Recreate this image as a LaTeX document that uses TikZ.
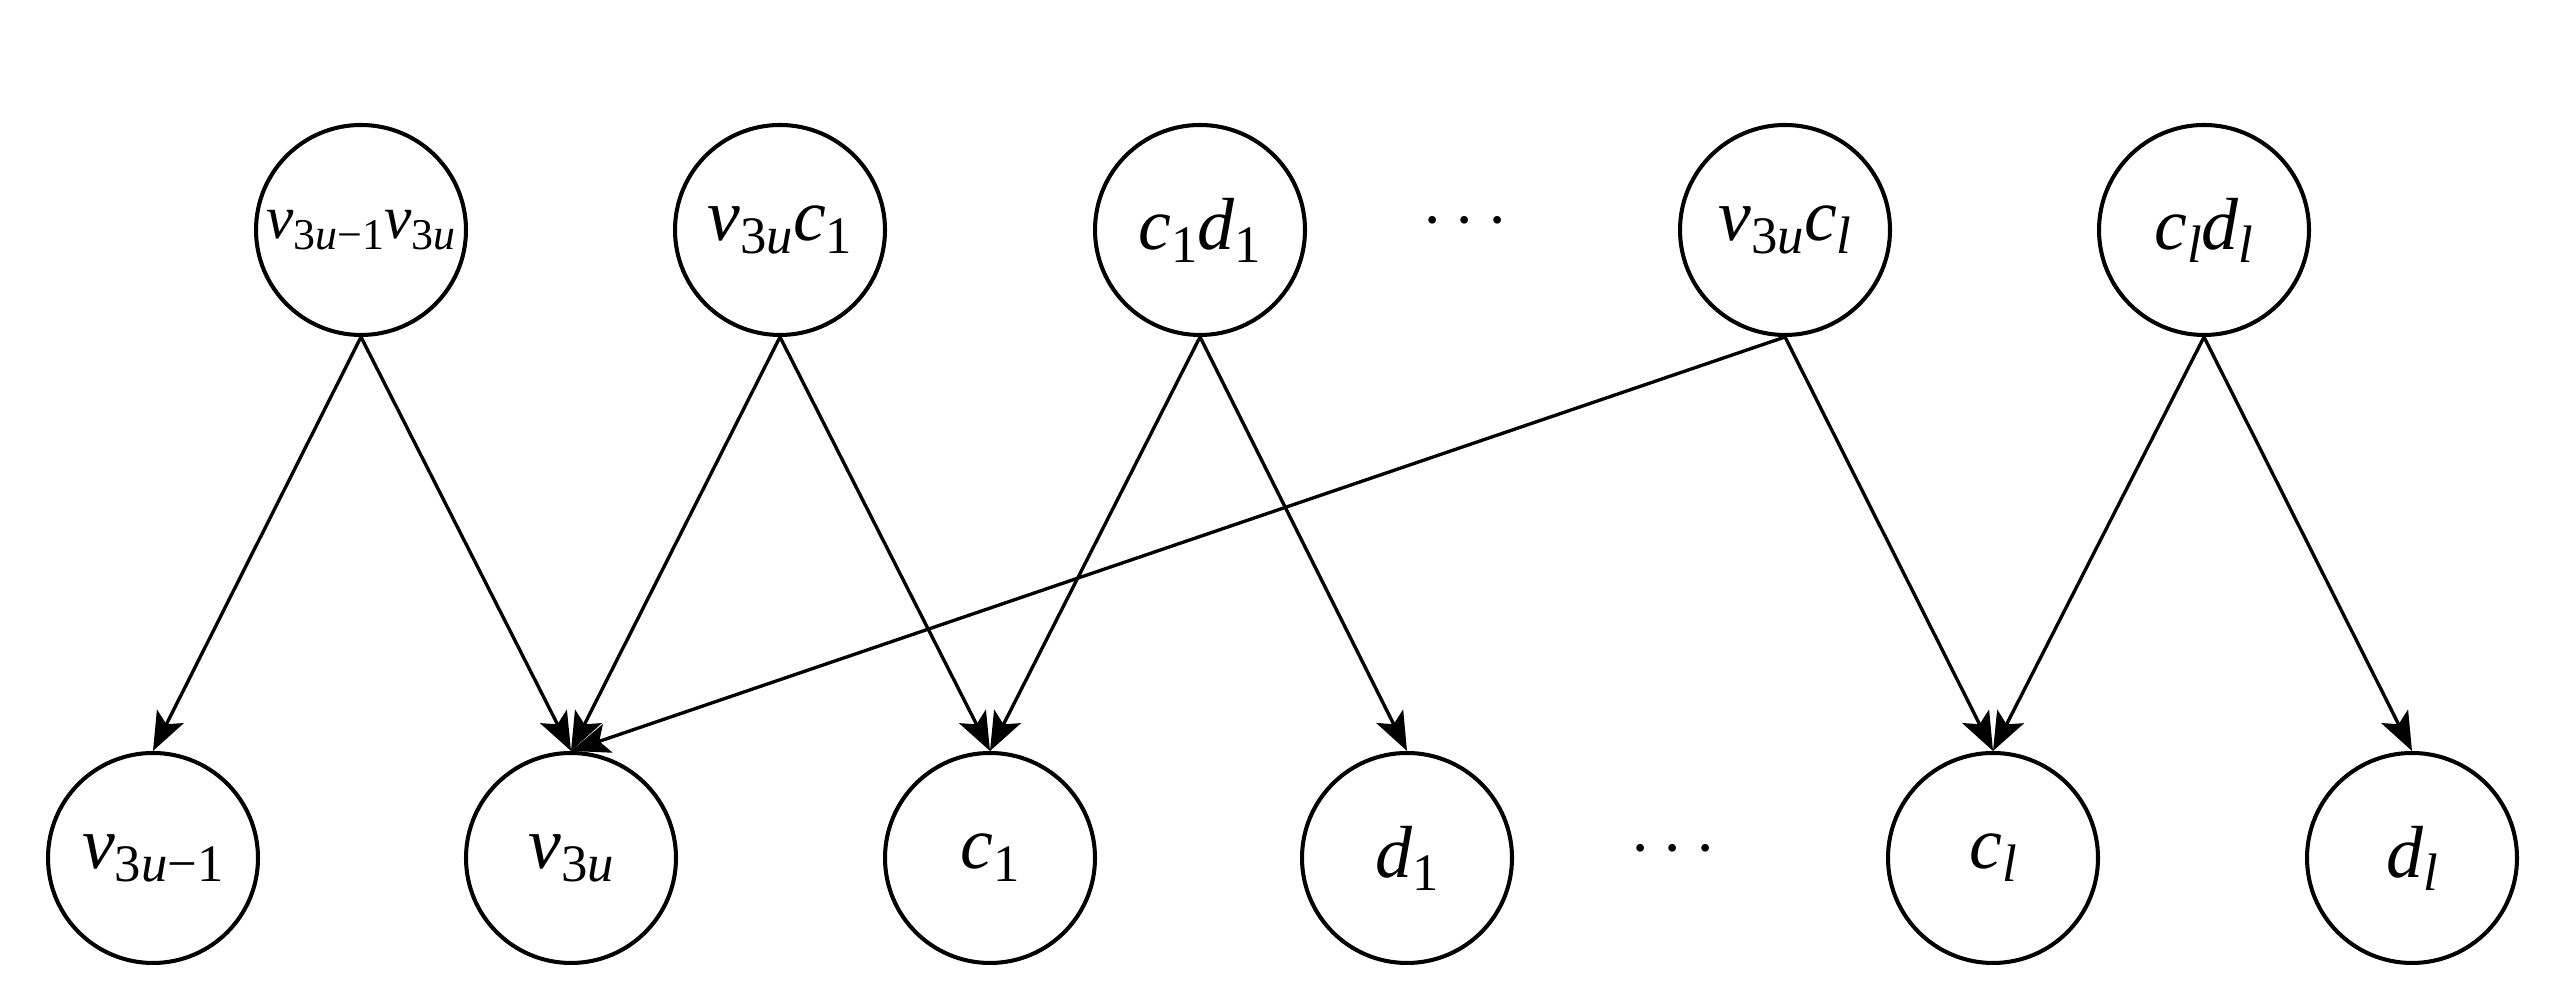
\documentclass[tikz,border=0pt]{standalone}
\usepackage{fontspec}
\setmainfont{Liberation Serif}
\usetikzlibrary{arrows.meta}
\newcommand{\lsub}[1]{\raisebox{-0.38ex}{\fontsize{15}{17}\selectfont #1}}
\newcommand{\ssub}[1]{\raisebox{-0.38ex}{\fontsize{12.5}{14}\selectfont #1}}
\begin{document}
\begin{tikzpicture}[x=1cm,y=1cm,
  vert/.style={circle, draw, line width=1.15pt, minimum size=2.1cm, inner sep=0pt, font=\fontsize{21}{25}\selectfont},
  edge/.style={line width=0.95pt, -{Stealth[length=11pt,width=8.5pt,inset=2.5pt]}}]
\useasboundingbox (0,0) rectangle (25.66,10);
% top row
\node[vert, font=\fontsize{17.5}{21}\selectfont] (t1) at (3.61,7.70) {\textit{v}\ssub{3\textit{u}−1}\textit{v}\ssub{3\textit{u}}};
\node[vert] (t2) at (7.80,7.70) {\textit{v}\lsub{3\textit{u}}\textit{c}\lsub{1}};
\node[vert] (t3) at (12.00,7.70) {\textit{c}\lsub{1}\textit{d}\lsub{1}};
\node[font=\fontsize{21}{25}\selectfont] (tdots) at (14.65,7.78) {$\cdots$};
\node[vert] (t4) at (17.85,7.70) {\textit{v}\lsub{3\textit{u}}\textit{c}\lsub{\textit{l}}};
\node[vert] (t5) at (22.04,7.70) {\textit{c}\lsub{\textit{l}}\textit{d}\lsub{\textit{l}}};
% bottom row
\node[vert] (b1) at (1.53,1.42) {\textit{v}\lsub{3\textit{u}−1}};
\node[vert] (b2) at (5.71,1.42) {\textit{v}\lsub{3\textit{u}}};
\node[vert] (b3) at (9.90,1.42) {\textit{c}\lsub{1}};
\node[vert] (b4) at (14.07,1.42) {\textit{d}\lsub{1}};
\node[font=\fontsize{21}{25}\selectfont] (bdots) at (16.73,1.50) {$\cdots$};
\node[vert] (b5) at (19.93,1.42) {\textit{c}\lsub{\textit{l}}};
\node[vert] (b6) at (24.12,1.42) {\textit{d}\lsub{\textit{l}}};
% edges
\draw[edge] (t1.south) -- (b1.north);
\draw[edge] (t1.south) -- (b2.north);
\draw[edge] (t2.south) -- (b2.north);
\draw[edge] (t2.south) -- (b3.north);
\draw[edge] (t3.south) -- (b3.north);
\draw[edge] (t3.south) -- (b4.north);
\draw[edge] (t4.south) -- (b2.north);
\draw[edge] (t4.south) -- (b5.north);
\draw[edge] (t5.south) -- (b5.north);
\draw[edge] (t5.south) -- (b6.north);
\end{tikzpicture}
\end{document}
